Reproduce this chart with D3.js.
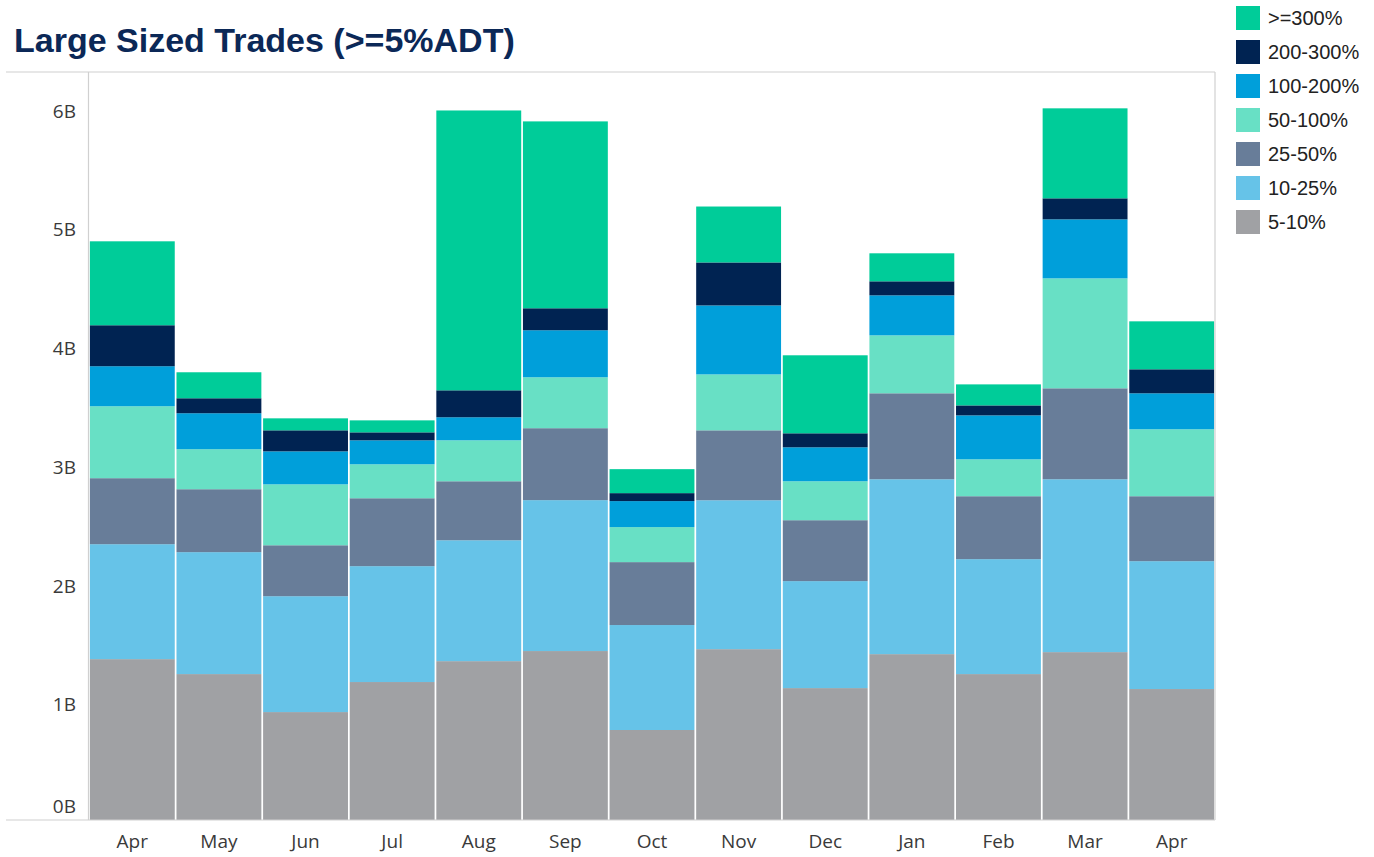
<!DOCTYPE html>
<html>
<head>
<meta charset="utf-8">
<script src="https://cdn.jsdelivr.net/npm/d3@7"></script>
<style>
  html, body { margin: 0; padding: 0; background: #ffffff; }
  svg { display: block; }
</style>
</head>
<body>
<svg id="chart" width="1374" height="857"></svg>
<script>
// Monthly value of large sized trades, split by trade size as % of ADT (billions)
const months = ["Apr", "May", "Jun", "Jul", "Aug", "Sep", "Oct", "Nov", "Dec", "Jan", "Feb", "Mar", "Apr"];

const bands = ["5-10%", "10-25%", "25-50%", "50-100%", "100-200%", "200-300%", ">=300%"];

const v5to10    = [1.355, 1.229, 0.909, 1.162, 1.338, 1.423, 0.758, 1.439, 1.111, 1.397, 1.229, 1.414, 1.103];
const v10to25   = [0.968, 1.027, 0.976, 0.976, 1.018, 1.271, 0.884, 1.254, 0.901, 1.473, 0.968, 1.456, 1.077];
const v25to50   = [0.556, 0.530, 0.429, 0.572, 0.497, 0.606, 0.530, 0.589, 0.513, 0.724, 0.530, 0.766, 0.547];
const v50to100  = [0.606, 0.337, 0.513, 0.286, 0.345, 0.429, 0.295, 0.471, 0.328, 0.488, 0.311, 0.926, 0.564];
const v100to200 = [0.337, 0.303, 0.278, 0.202, 0.194, 0.396, 0.219, 0.581, 0.286, 0.337, 0.370, 0.497, 0.303];
const v200to300 = [0.345, 0.126, 0.177, 0.067, 0.227, 0.185, 0.067, 0.362, 0.118, 0.118, 0.084, 0.177, 0.202];
const v300plus  = [0.707, 0.219, 0.101, 0.101, 2.357, 1.574, 0.202, 0.471, 0.657, 0.236, 0.177, 0.758, 0.404];

const yTicks = [0, 1, 2, 3, 4, 5, 6];

const colors = {
  "5-10%": "#a0a1a4",
  "10-25%": "#66c3e8",
  "25-50%": "#687d99",
  "50-100%": "#68e0c5",
  "100-200%": "#009fda",
  "200-300%": "#002352",
  ">=300%": "#00cc99"
};

const seriesValues = [v5to10, v10to25, v25to50, v50to100, v100to200, v200to300, v300plus];

// Row table for d3.stack
const rows = months.map((m, i) => {
  const r = { idx: i, month: m };
  bands.forEach((b, j) => { r[b] = seriesValues[j][i]; });
  return r;
});

const svg = d3.select("#chart");

const pane = { left: 89, right: 1215, top: 72, bottom: 820 };

const x = d3.scaleBand()
  .domain(d3.range(months.length))
  .range([pane.left, pane.right])
  .paddingInner(0.02)
  .paddingOuter(0.01);

const y = d3.scaleLinear()
  .domain([0, 6.3])
  .range([pane.bottom, pane.top]);

const stacked = d3.stack().keys(bands)(rows);

// Stacked bars
svg.append("g")
  .selectAll("g")
  .data(stacked)
  .join("g")
  .attr("fill", d => colors[d.key])
  .selectAll("rect")
  .data(d => d)
  .join("rect")
  .attr("x", d => x(d.data.idx))
  .attr("width", x.bandwidth())
  .attr("y", d => y(d[1]))
  .attr("height", d => y(d[0]) - y(d[1]));

// Pane frame
const frame = svg.append("g").attr("stroke", "#d0d0d0").attr("stroke-width", 1.2).attr("fill", "none");
frame.append("line").attr("x1", 6).attr("x2", pane.right).attr("y1", pane.top).attr("y2", pane.top);
frame.append("line").attr("x1", 6).attr("x2", pane.right).attr("y1", pane.bottom).attr("y2", pane.bottom);
frame.append("line").attr("x1", pane.left - 0.5).attr("x2", pane.left - 0.5).attr("y1", pane.top).attr("y2", pane.bottom);
frame.append("line").attr("x1", pane.right).attr("x2", pane.right).attr("y1", pane.top).attr("y2", pane.bottom);

// Y axis labels
const yAxis = d3.axisLeft(y)
  .tickValues(yTicks)
  .tickSize(0)
  .tickPadding(13)
  .tickFormat(d => d + "B");

const gy = svg.append("g")
  .attr("transform", `translate(${pane.left},0)`)
  .call(yAxis);
gy.select(".domain").remove();
gy.selectAll("text")
  .attr("font-family", "'Open Sans', sans-serif")
  .attr("font-size", 19)
  .attr("fill", "#3a3a3a")
  .attr("dy", d => d === 0 ? "-0.42em" : "0.5em");

// X axis labels
const xAxis = d3.axisBottom(x)
  .tickSize(0)
  .tickPadding(15)
  .tickFormat(i => months[i]);

const gx = svg.append("g")
  .attr("transform", `translate(0,${pane.bottom})`)
  .call(xAxis);
gx.select(".domain").remove();
gx.selectAll("text")
  .attr("font-family", "'Open Sans', sans-serif")
  .attr("font-size", 19)
  .attr("fill", "#3a3a3a");

// Title
svg.append("text")
  .attr("x", 14)
  .attr("y", 52)
  .attr("font-family", "'Liberation Sans', Arial, sans-serif")
  .attr("font-weight", "bold")
  .attr("font-size", 34)
  .attr("fill", "#0b2857")
  .text("Large Sized Trades (>=5%ADT)");

// Legend (top-down from highest band)
const legend = svg.append("g").attr("transform", "translate(1236,6)");
const legendItems = bands.slice().reverse();
const li = legend.selectAll("g")
  .data(legendItems)
  .join("g")
  .attr("transform", (d, i) => `translate(0,${i * 34})`);
li.append("rect")
  .attr("width", 24)
  .attr("height", 24)
  .attr("fill", d => colors[d]);
li.append("text")
  .attr("x", 32)
  .attr("y", 12)
  .attr("dy", "0.36em")
  .attr("font-family", "'Liberation Sans', Arial, sans-serif")
  .attr("font-size", 20)
  .attr("fill", "#222")
  .text(d => d);
</script>
</body>
</html>
